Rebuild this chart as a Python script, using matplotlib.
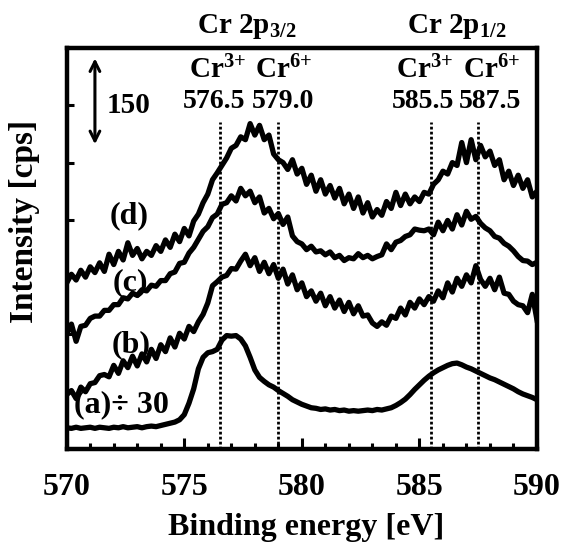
import numpy as np
import matplotlib
matplotlib.use("Agg")
import matplotlib.pyplot as plt

plt.rcParams['font.family'] = ['Liberation Serif', 'DejaVu Serif']
plt.rcParams['font.weight'] = 'bold'
plt.rcParams['mathtext.fontset'] = 'custom'
plt.rcParams['mathtext.rm'] = 'Liberation Serif:bold'
plt.rcParams['mathtext.it'] = 'Liberation Serif:bold'
plt.rcParams['mathtext.bf'] = 'Liberation Serif:bold'

# binding energy grid, 0.2 eV step
energy = np.round(np.linspace(570.0, 590.0, 101), 1)

# (a) is divided by 30, (b)-(d) are stacked spectra [cps]
spec_a = [37, 36, 38, 36, 37, 38, 36, 38, 37, 36,
          38, 37, 39, 37, 38, 39, 37, 39, 40, 39,
          41, 43, 45, 47, 51, 60, 80, 105, 140, 160,
          168, 170, 174, 190, 198, 197, 198, 192, 180, 160,
          138, 125, 118, 112, 108, 102, 97, 92, 86, 82,
          78, 75, 72, 71, 69, 70, 68, 69, 67, 68,
          66, 67, 66, 67, 68, 67, 69, 68, 70, 72,
          76, 81, 87, 95, 104, 112, 120, 127, 133, 138,
          142, 146, 149, 150, 147, 143, 140, 136, 132, 128,
          124, 121, 117, 113, 109, 105, 100, 96, 93, 90,
          86]
spec_b = [95, 102, 88, 108, 100, 114, 116, 128, 130, 126,
          146, 132, 154, 142, 162, 145, 166, 152, 174, 158,
          182, 170, 194, 178, 202, 192, 214, 205, 222, 235,
          255, 285, 292, 300, 303, 315, 314, 328, 340, 320,
          334, 310, 326, 306, 322, 298, 314, 288, 304, 278,
          290, 266, 276, 258, 272, 250, 266, 246, 260, 240,
          256, 236, 250, 232, 234, 220, 214, 222, 216, 232,
          228, 246, 234, 256, 246, 262, 252, 266, 258, 276,
          264, 290, 274, 298, 284, 304, 290, 320, 296, 284,
          298, 278, 300, 272, 270, 258, 252, 250, 238, 270,
          225]
spec_c = [200, 218, 188, 214, 216, 228, 232, 232, 242, 242,
          252, 252, 264, 262, 272, 268, 278, 276, 286, 284,
          294, 294, 306, 309, 324, 326, 342, 352, 366, 380,
          388, 404, 410, 427, 430, 442, 433, 455, 442, 450,
          430, 440, 412, 420, 402, 411, 392, 405, 372, 362,
          358, 348, 354, 344, 346, 339, 344, 334, 338, 329,
          334, 332, 341, 334, 338, 332, 336, 339, 358, 348,
          361, 364, 371, 374, 384, 382, 381, 384, 374, 396,
          381, 399, 384, 409, 391, 415, 401, 406, 394, 386,
          381, 371, 368, 359, 354, 346, 336, 329, 328, 322,
          326]
spec_d = [290, 305, 295, 312, 300, 318, 308, 325, 310, 340,
          322, 345, 330, 360, 338, 350, 332, 345, 338, 355,
          345, 365, 352, 375, 362, 385, 372, 398, 410, 430,
          445, 470, 482, 495, 508, 525, 530, 545, 540, 568,
          548, 565, 540, 548, 515, 505, 500, 488, 505, 480,
          490, 462, 478, 450, 470, 445, 460, 438, 455, 428,
          445, 420, 440, 412, 430, 405, 418, 408, 432, 420,
          448, 425, 445, 428, 440, 432, 448, 445, 462, 470,
          485, 480, 500, 495, 535, 500, 540, 505, 530, 510,
          520, 495, 505, 470, 485, 460, 478, 455, 470, 440,
          450]

# reference peak positions
peak_pos = [576.5, 579.0, 585.5, 587.5]
peak_ion = ['Cr$^{3{+}}$', 'Cr$^{6{+}}$', 'Cr$^{3{+}}$', 'Cr$^{6{+}}$']
peak_txt = ['576.5', '579.0', '585.5', '587.5']
ion_x = [576.4, 579.2, 585.2, 588.05]
num_x = [576.25, 579.2, 585.15, 588.0]

fig = plt.figure(figsize=(5.63, 5.42), dpi=100)
ax = fig.add_axes([0.1185, 0.1716, 0.8353, 0.7398])

for s in [spec_a, spec_b, spec_c, spec_d]:
    ax.plot(energy, s, color='black', lw=3.8, solid_joinstyle='round', zorder=3)

for p in peak_pos:
    ax.plot([p, p], [0, 571], color='black', lw=2.0,
            linestyle=(0, (1, 0.8)), zorder=2)

ax.set_xlim(570, 590)
ax.set_ylim(0, 700)
ax.set_xticks([570, 575, 580, 585, 590])
ax.set_xticks(np.arange(570, 591, 1), minor=True)
ax.set_yticks(np.arange(100, 700, 100))
ax.set_yticklabels([])
ax.tick_params(axis='x', which='major', direction='in', length=8, width=2.2,
               labelsize=23, pad=17)
ax.tick_params(axis='x', which='minor', direction='in', length=4.5, width=2.2)
ax.tick_params(axis='y', which='major', direction='in', length=5, width=2.2)
for sp in ax.spines.values():
    sp.set_linewidth(3.2)

# labels for the spectra
ax.text(572.65, 407, '(d)', fontsize=23, ha='center', va='center')
ax.text(572.7, 290, '(c)', fontsize=23, ha='center', va='center')
ax.text(572.75, 182, '(b)', fontsize=23, ha='center', va='center')
ax.text(570.3, 77, '(a)\u00f7 30', fontsize=23, ha='left', va='center')

# peak annotations
ax.text(577.65, 726, 'Cr 2p$_{3/2}$', fontsize=21, ha='center', va='baseline',
        clip_on=False)
ax.text(586.6, 726, 'Cr 2p$_{1/2}$', fontsize=21, ha='center', va='baseline',
        clip_on=False)
for xi, t in zip(ion_x, peak_ion):
    ax.text(xi, 647, t, fontsize=21, ha='center', va='baseline')
for xi, t in zip(num_x, peak_txt):
    ax.text(xi, 595, t, fontsize=20, ha='center', va='baseline')

# scale bar: 150 cps
ax.annotate('', xy=(571.2, 682), xytext=(571.2, 532),
            arrowprops=dict(arrowstyle='<->,head_length=0.7,head_width=0.35',
                            color='black', lw=2.2, shrinkA=0, shrinkB=0))
ax.text(572.65, 586, '150', fontsize=21, ha='center', va='baseline')

fig.text(306 / 563, 0.013, 'Binding energy [eV]', fontsize=23,
         ha='center', va='baseline')
fig.text(25 / 563, 1 - 221 / 542, 'Intensity [cps]', fontsize=24,
         rotation=90, ha='center', va='center')

fig.savefig('out.png', dpi=100)
